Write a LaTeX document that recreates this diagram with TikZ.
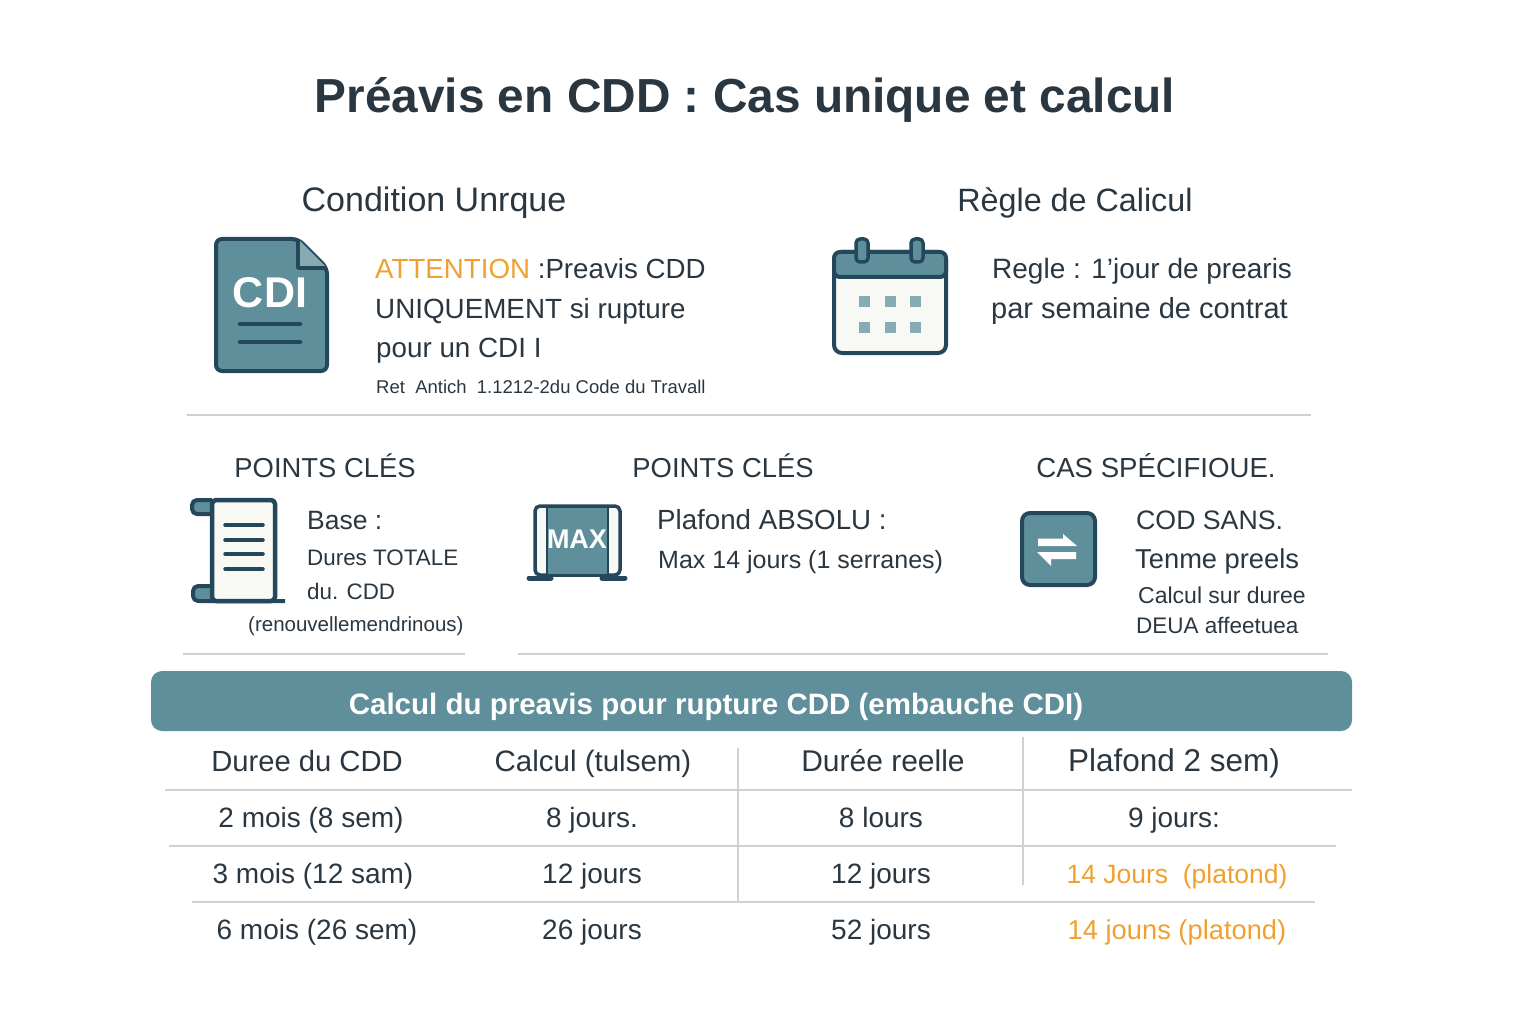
\documentclass[tikz,border=0pt]{standalone}
\usepackage{fontspec}
\setmainfont{Liberation Sans}
\definecolor{ink}{HTML}{2A3640}
\definecolor{navy}{HTML}{24475C}
\definecolor{teal}{HTML}{5F8F9A}
\definecolor{amber}{HTML}{F0A030}
\definecolor{rule}{HTML}{D2D0CB}
\definecolor{paper}{HTML}{F8F8F5}
\tikzset{
	x=1pt, y=-1pt,
	txt/.style={inner sep=0pt, text=ink, font=\fontsize{#1}{#1}\selectfont},
	head/.style={txt=#1, anchor=base},
	left/.style={txt=#1, anchor=base west},
	hot/.style={head=#1, text=amber},
	cell/.style={head=28},
	icon/.style={draw=navy, line width=4pt, line join=round},
	bar/.style={navy, line width=4.5pt, line cap=round},
	grid/.style={rule, line width=1.2pt}
}
\newcommand{\tablerow}[6]{   % name, baseline, then the cells
	\node[cell] (#1a) at (#3, #2) {#4};
	\node[cell] (#1b) at (592, #2) {#5};
	\node[cell] (#1c) at (881, #2) {#6};
}

\begin{document}
\begin{tikzpicture}
\useasboundingbox (0, 0) rectangle (1536, 1024);

\node[head=47, font=\fontsize{47.8}{48}\selectfont\bfseries] (ttl) at (745, 113) {Préavis en CDD : Cas unique et calcul};

% top block
\node[head=34] (hcond) at (434, 212) {Condition Unrque};
\node[head=32.3] (hregle) at (1075, 212) {Règle de Calicul};

\draw[icon, fill=teal, rounded corners=6pt] (216, 239) -- (298, 239) -- (327, 268) -- (327, 371) -- (216, 371) -- cycle;
\draw[icon, fill=teal!75!white, line width=3.5pt] (298, 239) -- (298, 268) -- (327, 268);
\node[txt=41, text=white, font=\fontsize{43}{43}\selectfont\bfseries] (cdi) at (270, 293) {CDI};
\draw[bar] (240, 324) -- (300, 324);
\draw[bar] (240, 342) -- (300, 342);

\node[left=27.7] (att1) at (375, 279) {\textcolor{amber}{ATTENTION} :Preavis CDD};
\node[left=27.8] (att2) at (375, 318) {UNIQUEMENT si rupture};
\node[left=27.8] (att3) at (376, 357) {pour un CDI I};
\node[left=18.5] (att4) at (376, 393) {Ret\ \ Antich\ \ 1.1212-2du Code du Travall};

\draw[icon, fill=paper, rounded corners=8pt] (834, 252) rectangle (946, 353);
\draw[icon, fill=teal, rounded corners=6pt] (834, 277) -- (834, 252) -- (946, 252) -- (946, 277) -- cycle;
\foreach \x in {862, 917}
	\draw[icon, fill=teal, line width=3.5pt, rounded corners=4pt] (\x - 6, 262) -- (\x - 6, 239) -- (\x + 6, 239) -- (\x + 6, 262) -- cycle;
\foreach \x in {859, 885, 910}
	\foreach \y in {296, 322}
		\fill[teal!75!white] (\x, \y) rectangle (\x + 11, \y + 11);

\node[left=28] (reg1) at (992, 279) {Regle : 1'jour de prearis};
\node[left=29] (reg2) at (991, 318) {par semaine de contrat};

\draw[grid] (187, 415) -- (1311, 415);

% three points
\node[head=27.4] (hbase) at (325, 477) {POINTS CLÉS};
\node[head=27.4] (hmax) at (723, 477) {POINTS CLÉS};
\node[head=27.6] (hcas) at (1156, 477) {CAS SPÉCIFIOUE.};

\draw[icon, fill=teal, rounded corners=5pt] (212, 500) -- (192, 500) -- (192, 514) -- (212, 514);
\draw[icon, fill=teal, rounded corners=5pt] (212, 586) -- (193, 586) -- (193, 601) -- (285, 601);
\draw[icon, line width=4.5pt, fill=paper, rounded corners=4pt] (212, 500) rectangle (275, 601);
\foreach \y in {525, 540, 554, 569}
	\draw[bar, line width=3.5pt] (225, \y) -- (263, \y);

\node[left=26.5] (base1) at (307, 529) {Base :};
\node[left=22.4] (base2) at (307, 565) {Dures TOTALE};
\node[left=22.4] (base3) at (307, 599) {du. CDD};
\node[left=20.5] (base4) at (248, 631) {(renouvellemendrinous)};

\draw[icon, line width=3.5pt, fill=paper, rounded corners=5pt] (535, 506) rectangle (620, 575);
\fill[teal] (547, 508) rectangle (608, 573);
\draw[navy, line width=2pt] (547, 506) -- (547, 575) (608, 506) -- (608, 575);
\draw[bar, line width=5pt] (529, 578) -- (551, 578);
\draw[bar, line width=5pt] (602, 578) -- (625, 578);
\node[txt=29, text=white, font=\fontsize{27}{27}\selectfont\bfseries] (maxi) at (577, 539) {MAX};

\node[left=27.7] (max1) at (657, 529) {Plafond ABSOLU :};
\node[left=25] (max2) at (658, 568) {Max 14 jours (1 serranes)};

\draw[icon, fill=teal, rounded corners=8pt] (1022, 513) rectangle (1095, 585);
\fill[white] (1038, 538.5) -- (1063, 538.5) -- (1063, 534) -- (1077, 546) -- (1038, 546) -- cycle;
\fill[white] (1076, 552) -- (1037, 552) -- (1051, 566) -- (1051, 559) -- (1076, 559) -- cycle;

\node[left=26.7] (cas1) at (1136, 529) {COD SANS.};
\node[left=27.3] (cas2) at (1135, 568) {Tenme preels};
\node[left=23] (cas3) at (1138, 603) {Calcul sur duree};
\node[left=22.5] (cas4) at (1136, 633) {DEUA affeetuea};

\draw[grid] (183, 654) -- (465, 654);
\draw[grid] (518, 654) -- (1328, 654);

% table
\fill[teal, rounded corners=11pt] (151, 671) rectangle (1352, 731);
\node[head=28, text=white, font=\fontsize{29.5}{30}\selectfont\bfseries] (tbl) at (716, 714) {Calcul du preavis pour rupture CDD (embauche CDI)};

\node[head=29.2] (ha) at (307, 771) {Duree du CDD};
\node[head=29.5] (hb) at (593, 771) {Calcul (tulsem)};
\node[head=30] (hc) at (883, 771) {Durée reelle};
\node[head=31.5] (hd) at (1174, 771) {Plafond 2 sem)};
\tablerow{r}{827}{311}{2 mois (8 sem)}{8 jours.}{8 lours}
\node[cell] (rd) at (1174, 827) {9 jours:};
\tablerow{s}{883}{313}{3 mois (12 sam)}{12 jours}{12 jours}
\node[hot=26.5] (sd) at (1177, 883) {14 Jours\ \ (platond)};
\tablerow{t}{939}{317}{6 mois (26 sem)}{26 jours}{52 jours}
\node[hot=27.3] (td) at (1177, 939) {14 jouns (platond)};

\draw[grid] (165, 790) -- (1352, 790);
\draw[grid] (169, 846) -- (1336, 846);
\draw[grid] (192, 902) -- (1315, 902);
\draw[grid] (738, 748) -- (738, 902);
\draw[grid] (1023, 737) -- (1023, 885);
\end{tikzpicture}
\end{document}
